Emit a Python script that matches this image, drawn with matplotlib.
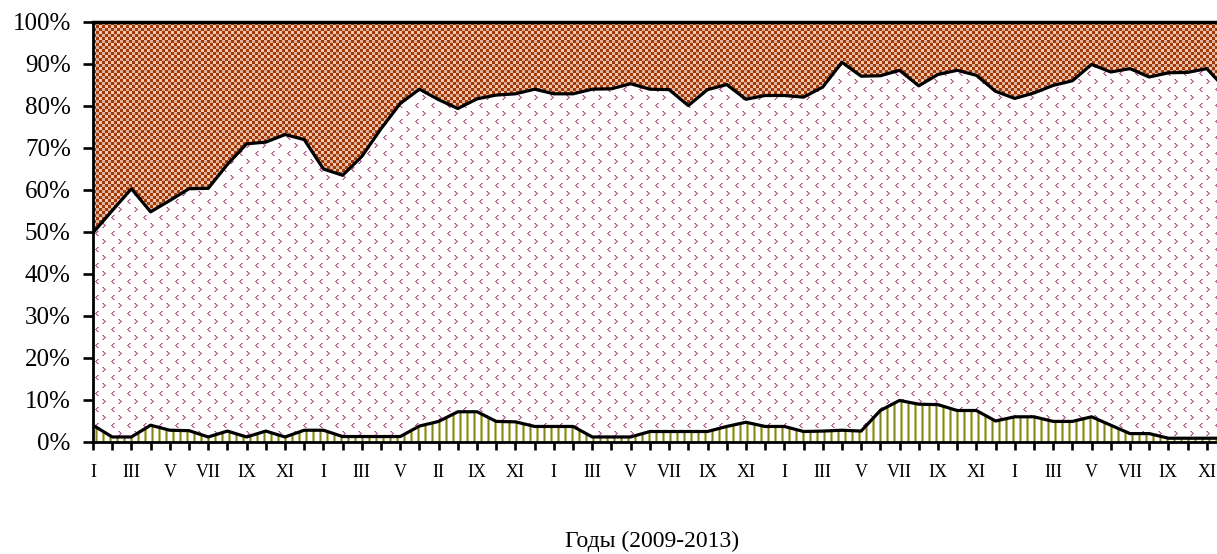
import numpy as np
import matplotlib.pyplot as plt
from matplotlib.colors import to_rgb

# monthly shares, % (2009-2013), bottom layer to top layer
green = [4.0, 1.2, 1.2, 4.0, 2.8, 2.7, 1.2, 2.6, 1.2, 2.6, 1.2, 2.8,
         2.8, 1.3, 1.3, 1.3, 1.3, 3.8, 4.9, 7.2, 7.2, 4.9, 4.8, 3.7,
         3.7, 3.7, 1.2, 1.2, 1.2, 2.5, 2.5, 2.5, 2.5, 3.7, 4.7, 3.7,
         3.7, 2.5, 2.6, 2.8, 2.6, 7.5, 9.9, 9.0, 8.9, 7.5, 7.5, 5.0,
         6.0, 6.0, 4.9, 4.9, 6.0, 4.0, 2.0, 2.0, 0.9, 0.9, 0.9, 0.9]
pink = [45.8, 53.9, 59.1, 50.8, 54.7, 57.6, 59.2, 63.5, 69.8, 68.8, 72.0, 69.2,
        62.2, 62.2, 66.7, 73.3, 79.3, 80.2, 76.6, 72.2, 74.5, 77.7, 78.1, 80.3,
        79.2, 79.2, 82.8, 82.9, 84.1, 81.5, 81.4, 77.6, 81.4, 81.4, 76.9, 78.8,
        78.8, 79.6, 81.9, 87.6, 84.5, 79.7, 78.6, 75.8, 78.6, 81.0, 79.8, 78.5,
        75.8, 77.1, 80.0, 81.1, 83.9, 84.1, 86.9, 84.9, 87.0, 87.1, 88.0, 83.1]
brown = [50.2, 44.9, 39.7, 45.2, 42.5, 39.7, 39.6, 33.9, 29.0, 28.6, 26.8, 28.0,
         35.0, 36.5, 32.0, 25.4, 19.4, 16.0, 18.5, 20.6, 18.3, 17.4, 17.1, 16.0,
         17.1, 17.1, 16.0, 15.9, 14.7, 16.0, 16.1, 19.9, 16.1, 14.9, 18.4, 17.5,
         17.5, 17.9, 15.5, 9.6, 12.9, 12.8, 11.5, 15.2, 12.5, 11.5, 12.7, 16.5,
         18.2, 16.9, 15.1, 14.0, 10.1, 11.9, 11.1, 13.1, 12.1, 12.0, 11.1, 16.0]

# category labels, shown on every second month
xlabels = ['I', 'III', 'V', 'VII', 'IX', 'XI',
           'I', 'III', 'V', 'II', 'IX', 'XI',
           'I', 'III', 'V', 'VII', 'IX', 'XI',
           'I', 'III', 'V', 'VII', 'IX', 'XI',
           'I', 'III', 'V', 'VII', 'IX', 'XI']
ylabels = ['0%', '10%', '20%', '30%', '40%', '50%', '60%', '70%', '80%', '90%', '100%']

x = np.arange(len(green))
lower = np.array(green)
upper = lower + np.array(pink)
top = upper + np.array(brown)

FW, FH = 1217, 554
fig = plt.figure(figsize=(FW / 100, FH / 100), dpi=100)
# plot area in whole pixels; it runs a little past the right edge (as in the original crop)
L, B, W, H = 93, 112, 1133, 420
ax = fig.add_axes([L / FW, B / FH, W / FW, H / FH])


def make_texture(tile):
    reps_y = H // tile.shape[0] + 1
    reps_x = W // tile.shape[1] + 1
    return np.tile(tile, (reps_y, reps_x, 1))[:H, :W]


# vertical olive stripes
olive = np.array(to_rgb('#84841a'))
olive_l = np.array(to_rgb('#bfbf72'))
t_green = np.ones((1, 7, 3))
t_green[0, 2] = olive_l
t_green[0, 3] = olive
t_green[0, 4] = olive_l

# small pink chevrons
pk = np.array(to_rgb('#b4508c'))
pk_l = np.array(to_rgb('#d898bc'))
t_pink = np.ones((16, 16, 3))
lt_shape = [(0, 2), (1, 1), (2, 0), (3, 1), (4, 2)]
for dr, dc in lt_shape:   # '<'
    t_pink[1 + dr, 2 + dc] = pk
    t_pink[1 + dr, 3 + dc] = pk_l
for dr, dc in lt_shape:   # '>'
    t_pink[9 + dr, 12 - dc] = pk
    t_pink[9 + dr, 11 - dc] = pk_l

# brown checker
br = np.array(to_rgb('#a33805'))
lt = np.array(to_rgb('#fbe6d8'))
t_brown = np.ones((6, 6, 3)) * lt
t_brown[0:3, 0:3] = br
t_brown[3:6, 3:6] = br
t_brown[0:3, 3:6] = br * 0.3 + lt * 0.7
t_brown[3:6, 0:3] = br * 0.15 + lt * 0.85

layers = [(0, lower, t_green), (lower, upper, t_pink), (upper, top, t_brown)]
for y1, y2, tile in layers:
    poly = ax.fill_between(x, y1, y2, facecolor='none', edgecolor='none')
    im = ax.imshow(make_texture(tile), extent=(0, len(x) - 1, 0, 100),
                   aspect='auto', interpolation='nearest', origin='upper', zorder=1)
    im.set_clip_path(poly.get_paths()[0], transform=ax.transData)

ax.plot(x, lower, color='black', lw=2.3, zorder=3)
ax.plot(x, upper, color='black', lw=2.3, zorder=3)
ax.plot(x, top, color='black', lw=2.5, zorder=3, clip_on=False)

ax.set_xlim(0, len(x) - 1)
ax.set_ylim(0, 100)

for s in ['top', 'right']:
    ax.spines[s].set_visible(False)
for s in ['left', 'bottom']:
    ax.spines[s].set_linewidth(2.0)
    ax.spines[s].set_zorder(4)

ax.set_yticks(np.arange(0, 101, 10))
ax.set_yticklabels(ylabels, fontfamily='Liberation Serif', fontsize=18)
ax.tick_params(axis='y', direction='out', length=7, width=1.9, pad=9)

ax.set_xticks(x)
ax.set_xticklabels([xlabels[i // 2] if i % 2 == 0 else '' for i in x],
                   fontfamily='Liberation Serif', fontsize=13)
ax.tick_params(axis='x', direction='out', length=6, width=1.9, pad=10)

fig.text(0.536, 0.0235, 'Годы (2009-2013)', ha='center', va='center',
         fontfamily='Liberation Serif', fontsize=17)

fig.savefig('out.png', dpi=100)
